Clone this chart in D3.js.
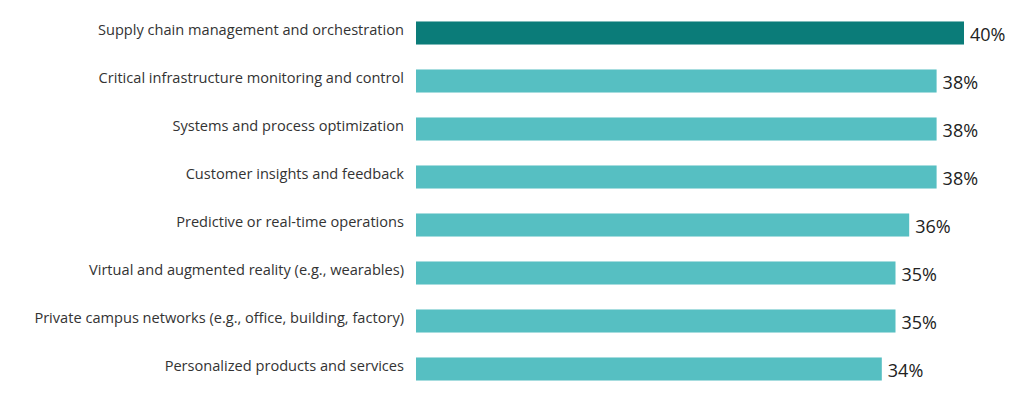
<!DOCTYPE html>
<html>
<head>
<meta charset="utf-8">
<script src="https://cdn.jsdelivr.net/npm/d3@7"></script>
<style>
  body { margin: 0; background: #fff; }
  svg { display: block; }
</style>
</head>
<body>
<div id="chart"></div>
<script>
var categories = [
	"Supply chain management and orchestration",
	"Critical infrastructure monitoring and control",
	"Systems and process optimization",
	"Customer insights and feedback",
	"Predictive or real-time operations",
	"Virtual and augmented reality (e.g., wearables)",
	"Private campus networks (e.g., office, building, factory)",
	"Personalized products and services"
];
var values = [40, 38, 38, 38, 36, 35, 35, 34];
var highlight = [true, false, false, false, false, false, false, false];

var width = 1024, height = 399;

var svg = d3.select("#chart").append("svg")
	.attr("width", width)
	.attr("height", height);

// 0..40 maps onto the bar area
var x = d3.scaleLinear()
	.domain([0, 40])
	.range([416, 964]);

var y = d3.scaleBand()
	.domain(categories)
	.range([9, 393])
	.paddingInner(0.52)
	.paddingOuter(0.26);

var rows = svg.selectAll("g.row")
		.data(categories)
	.enter().append("g")
		.attr("class", "row");

rows.append("rect")
	.attr("x", x(0))
	.attr("y", function (d) { return y(d); })
	.attr("width", function (d, i) { return x(values[i]) - x(0); })
	.attr("height", y.bandwidth())
	.attr("fill", function (d, i) { return highlight[i] ? "#0b7c79" : "#56bfc2"; });

rows.append("text")
	.attr("x", x(0) - 12)
	.attr("y", function (d) { return y(d) + y.bandwidth() / 2 - 3; })
	.attr("dy", "0.35em")
	.attr("text-anchor", "end")
	.style("font-family", "'Open Sans', sans-serif")
	.style("font-size", "14.6px")
	.attr("fill", "#333")
	.text(function (d) { return d; });

rows.append("text")
	.attr("x", function (d, i) { return x(values[i]) + 6; })
	.attr("y", function (d) { return y(d) + y.bandwidth() / 2 + 2; })
	.attr("dy", "0.35em")
	.style("font-family", "'Open Sans', sans-serif")
	.style("font-size", "18px")
	.attr("fill", "#222")
	.text(function (d, i) { return values[i] + "%"; });
</script>
</body>
</html>
